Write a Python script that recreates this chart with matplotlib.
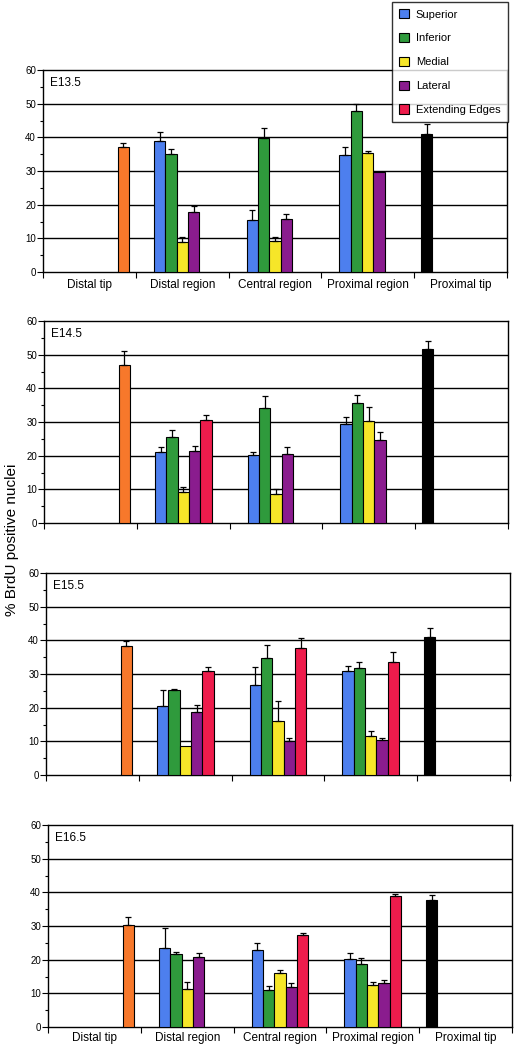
import matplotlib
matplotlib.use("Agg")
import matplotlib.pyplot as plt
from matplotlib.patches import Patch
from matplotlib.ticker import MultipleLocator
import numpy as np

plt.rcParams['font.family'] = ['Liberation Sans', 'DejaVu Sans']

categories = ["Distal tip", "Distal region", "Central region", "Proximal region", "Proximal tip"]
stages = ["E13.5", "E14.5", "E15.5", "E16.5"]
series = ["Superior", "Inferior", "Medial", "Lateral", "Extending Edges"]
colors = ["#4d7fee", "#2f9a3c", "#f6e629", "#8a1c8e", "#ee1c4c"]

# values for the three middle regions (Distal, Central, Proximal), per stage, per series
# None = no bar
region_vals = {
    "E13.5": {
        "Superior":        [38.9, 15.4, 34.9],
        "Inferior":        [35.0, 39.9, 47.9],
        "Medial":          [8.9, 9.2, 35.4],
        "Lateral":         [17.7, 15.6, 29.6],
        "Extending Edges": [None, None, None],
    },
    "E14.5": {
        "Superior":        [21.1, 20.2, 29.3],
        "Inferior":        [25.5, 34.2, 35.6],
        "Medial":          [9.2, 8.7, 30.4],
        "Lateral":         [21.4, 20.4, 24.6],
        "Extending Edges": [30.7, None, None],
    },
    "E15.5": {
        "Superior":        [20.6, 26.6, 30.9],
        "Inferior":        [25.1, 34.9, 31.8],
        "Medial":          [8.5, 16.0, 11.5],
        "Lateral":         [18.8, 10.2, 10.3],
        "Extending Edges": [30.9, 37.6, 33.6],
    },
    "E16.5": {
        "Superior":        [23.4, 22.8, 20.1],
        "Inferior":        [21.6, 11.0, 18.6],
        "Medial":          [11.3, 16.0, 12.4],
        "Lateral":         [20.7, 11.9, 13.1],
        "Extending Edges": [None, 27.3, 39.0],
    },
}
region_err = {
    "E13.5": {
        "Superior":        [2.6, 3.1, 2.1],
        "Inferior":        [1.4, 2.8, 2.0],
        "Medial":          [1.4, 1.2, 0.6],
        "Lateral":         [1.8, 1.6, 0.0],
        "Extending Edges": [0, 0, 0],
    },
    "E14.5": {
        "Superior":        [1.4, 1.0, 2.3],
        "Inferior":        [2.2, 3.6, 2.3],
        "Medial":          [1.6, 1.4, 4.1],
        "Lateral":         [1.6, 2.1, 2.5],
        "Extending Edges": [1.4, 0, 0],
    },
    "E15.5": {
        "Superior":        [4.6, 5.5, 1.6],
        "Inferior":        [0.5, 3.7, 1.8],
        "Medial":          [0.0, 6.0, 1.5],
        "Lateral":         [2.0, 0.7, 0.6],
        "Extending Edges": [1.3, 3.2, 2.8],
    },
    "E16.5": {
        "Superior":        [6.0, 2.2, 2.0],
        "Inferior":        [0.6, 1.3, 2.0],
        "Medial":          [2.2, 0.8, 0.9],
        "Lateral":         [1.3, 1.1, 0.9],
        "Extending Edges": [0, 0.7, 0.5],
    },
}
distal_tip = [37.2, 47.0, 38.4, 30.2]
distal_tip_err = [1.1, 4.0, 1.3, 2.4]
proximal_tip = [41.0, 51.8, 41.1, 37.8]
proximal_tip_err = [2.9, 2.3, 2.7, 1.3]

fig = plt.figure(figsize=(5.18, 10.49), dpi=100)

# axes boxes in pixels (left, top, right, bottom)
boxes = [(43, 70, 507, 272), (44, 321, 508, 523), (46, 573, 510, 775), (48, 825, 512, 1027)]
W, H = 518, 1049
w = 0.122

for si, stage in enumerate(stages):
    l, t, r, b = boxes[si]
    ax = fig.add_axes([l / W, 1 - b / H, (r - l) / W, (b - t) / H])
    ax.set_xlim(0, 5)
    ax.set_ylim(0, 60)
    for y in range(10, 60, 10):
        ax.axhline(y, color="black", lw=1.0, zorder=1)

    err_kw = dict(ecolor="black", elinewidth=0.9, capsize=2.5, capthick=0.9)
    for k, name in enumerate(series):
        vals = region_vals[stage][name]
        errs = region_err[stage][name]
        for ci in range(3):
            if vals[ci] is None:
                continue
            x = ci + 1.5 + (k - 2) * w
            e = errs[ci]
            ax.bar(x, vals[ci], width=w, color=colors[k], edgecolor="black", lw=0.8, zorder=3,
                   yerr=[[0], [e]] if e > 0 else None, error_kw=err_kw)

    ax.bar(0.5 + 3 * w, distal_tip[si], width=w, color="#f7782b", edgecolor="black", lw=0.8,
           zorder=3, yerr=[[0], [distal_tip_err[si]]], error_kw=err_kw)
    ax.bar(4.5 - 3 * w, proximal_tip[si], width=w, color="black", edgecolor="black", lw=0.8,
           zorder=3, yerr=[[0], [proximal_tip_err[si]]], error_kw=err_kw)

    ax.text(0.08, 56, stage, fontsize=8.5, va="center", ha="left")

    ax.yaxis.set_major_locator(MultipleLocator(10))
    ax.yaxis.set_minor_locator(MultipleLocator(5))
    ax.tick_params(axis="y", which="major", length=4, width=0.8, labelsize=7, pad=1)
    ax.tick_params(axis="y", which="minor", length=2.5, width=0.8)
    ax.set_xticks(np.arange(0, 6))
    ax.set_xticklabels([])
    ax.tick_params(axis="x", which="major", length=4, width=0.8, direction="out")
    for sp in ax.spines.values():
        sp.set_linewidth(1.0)

    if si in (0, 3):
        ly = -3.8 if si == 0 else -3.2
        for ci, cat in enumerate(categories):
            ax.text(ci + 0.5, ly, cat, fontsize=8.5, ha="center", va="center")

fig.text(0.024, 0.485, "% BrdU positive nuclei", rotation=90, fontsize=11, ha="center", va="center")

handles = [Patch(facecolor=c, edgecolor="black", lw=0.8) for c in colors]
leg = fig.legend(handles, series, loc="upper left", bbox_to_anchor=(392 / W, 1 - 2 / H),
                 fontsize=8, frameon=True, fancybox=False, edgecolor="black",
                 handlelength=0.9, handleheight=0.9, handletextpad=0.6,
                 labelspacing=1.2, borderpad=0.65, borderaxespad=0)
leg.get_frame().set_linewidth(1.0)
leg.set_zorder(10)

fig.savefig("out.png", dpi=100)
